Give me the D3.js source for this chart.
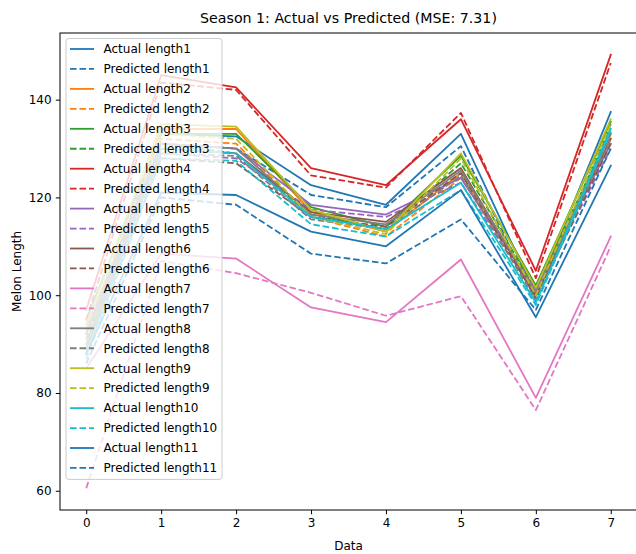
<!DOCTYPE html>
<html>
<head>
<meta charset="utf-8">
<script src="https://cdn.jsdelivr.net/npm/d3@7"></script>
<style>
  html, body { margin: 0; padding: 0; background: #fff; }
  svg { display: block; font-family: "DejaVu Sans", sans-serif; }
</style>
</head>
<body>
<svg id="chart" width="636" height="554"></svg>
<script>
// Season 1 melon lengths: measured vs model output at each data step
const steps = [0, 1, 2, 3, 4, 5, 6, 7];
const seriesNames = ["length1", "length2", "length3", "length4", "length5", "length6",
                     "length7", "length8", "length9", "length10", "length11"];
const seriesColors = ["#1f77b4", "#ff7f0e", "#2ca02c", "#d62728", "#9467bd", "#8c564b",
                      "#e377c2", "#7f7f7f", "#bcbd22", "#17becf", "#1f77b4"];

const actualValues = [
  [95, 133, 132.5, 122.5, 118.5, 133, 100, 137.5],
  [90, 134, 134, 117, 113, 125, 101, 133],
  [92, 133, 133, 118, 114, 128.5, 102, 135.5],
  [97, 145, 142.5, 126, 122.5, 136, 105, 149.2],
  [93, 131, 130, 118.5, 116.5, 124, 101, 131],
  [89, 130, 129, 117, 115, 126, 100, 132],
  [85, 108.5, 107.5, 97.5, 94.5, 107.3, 79, 112],
  [90, 131, 130, 116.5, 114.5, 125.5, 100.5, 133],
  [94, 135, 134.5, 117.5, 113, 129, 101.5, 136],
  [88, 130, 129, 116, 113.5, 123, 98.5, 134],
  [88, 121, 120.5, 113, 110, 121.5, 95.5, 126.5]
];
const predictedValues = [
  [93, 131, 130, 120.5, 118, 130.5, 99, 135],
  [89, 132, 131, 116, 112, 124, 100.5, 132],
  [91, 131, 129, 116.5, 113.5, 127, 101, 134],
  [95, 143.5, 142, 124.5, 122, 137.3, 103.5, 147.5],
  [92, 129, 128, 117.5, 116, 123, 100, 130],
  [88, 128, 127, 116, 114, 125, 99.5, 131],
  [60.5, 107, 104.5, 100.5, 95.8, 99.8, 76.5, 110],
  [89, 129, 128.5, 115.5, 113.5, 124.5, 99, 132],
  [93, 133, 132, 116, 112.5, 128, 100, 135],
  [87, 128, 127.5, 114.5, 112, 121.5, 98, 133.5],
  [86, 120, 118.5, 108.5, 106.5, 115.5, 97, 130]
];
const yTicks = [60, 80, 100, 120, 140];
const titleText = "Season 1: Actual vs Predicted (MSE: 7.31)";
const xLabel = "Data";
const yLabel = "Melon Length";

const svg = d3.select("#chart");
const margin = { left: 60, right: 637, top: 33, bottom: 510 };
const fs = 12; // base font size in px

// Axis limits padded by 5% of the data span on each side
function padded(lo, hi) { const m = (hi - lo) * 0.05; return [lo - m, hi + m]; }
const allVals = actualValues.flat().concat(predictedValues.flat());
const x = d3.scaleLinear().domain(padded(d3.min(steps), d3.max(steps)))
  .range([margin.left, margin.right]);
const y = d3.scaleLinear().domain(padded(d3.min(allVals), d3.max(allVals)))
  .range([margin.bottom, margin.top]);

svg.append("defs").append("clipPath").attr("id", "plot-clip")
  .append("rect").attr("x", margin.left).attr("y", margin.top)
  .attr("width", margin.right - margin.left).attr("height", margin.bottom - margin.top);

const line = d3.line().x((d, i) => x(steps[i])).y(d => y(d));
const lw = 1.8;
const dash = "6.6,2.9";

// Series lines: actual (solid) then predicted (dashed) for each length
const plot = svg.append("g").attr("clip-path", "url(#plot-clip)");
seriesNames.forEach((name, k) => {
  plot.append("path").datum(actualValues[k]).attr("d", line)
    .attr("fill", "none").attr("stroke", seriesColors[k]).attr("stroke-width", lw)
    .attr("stroke-linejoin", "round").attr("stroke-linecap", "square");
  plot.append("path").datum(predictedValues[k]).attr("d", line)
    .attr("fill", "none").attr("stroke", seriesColors[k]).attr("stroke-width", lw)
    .attr("stroke-dasharray", dash).attr("stroke-linejoin", "round");
});

// Axes
const xAxis = d3.axisBottom(x).tickValues(steps).tickSize(4.2).tickPadding(4.2);
const yAxis = d3.axisLeft(y).tickValues(yTicks).tickSize(4.2).tickPadding(4.2);
const gx = svg.append("g").attr("transform", `translate(0,${margin.bottom})`).call(xAxis);
const gy = svg.append("g").attr("transform", `translate(${margin.left},0)`).call(yAxis);
[gx, gy].forEach(g => {
  g.select(".domain").remove();
  g.selectAll(".tick line").attr("stroke", "#000").attr("stroke-width", 1);
  g.selectAll(".tick text").attr("fill", "#000").style("font-size", fs + "px")
    .style("font-family", "DejaVu Sans");
});

// Frame
svg.append("rect").attr("x", margin.left).attr("y", margin.top)
  .attr("width", margin.right - margin.left).attr("height", margin.bottom - margin.top)
  .attr("fill", "none").attr("stroke", "#000").attr("stroke-width", 1);

// Title and axis labels
svg.append("text").attr("x", (margin.left + margin.right) / 2).attr("y", 23)
  .attr("text-anchor", "middle").style("font-size", "14.2px").text(titleText);
svg.append("text").attr("x", (margin.left + margin.right) / 2).attr("y", 550)
  .attr("text-anchor", "middle").style("font-size", fs + "px").text(xLabel);
svg.append("text").attr("transform", `translate(21,${(margin.top + margin.bottom) / 2}) rotate(-90)`)
  .attr("text-anchor", "middle").style("font-size", fs + "px").text(yLabel);

// Legend
const entries = [];
seriesNames.forEach((name, k) => {
  entries.push({ label: "Actual " + name, color: seriesColors[k], dashed: false });
  entries.push({ label: "Predicted " + name, color: seriesColors[k], dashed: true });
});
const lg = svg.append("g");
const lgX = 66, lgY = 38.5, rowH = 19.95;
lg.append("rect").attr("x", lgX).attr("y", lgY).attr("width", 156)
  .attr("height", rowH * entries.length + 2).attr("rx", 3)
  .attr("fill", "#fff").attr("fill-opacity", 0.8)
  .attr("stroke", "#cccccc").attr("stroke-width", 1);
entries.forEach((e, i) => {
  const cy = lgY + 10.5 + i * rowH;
  lg.append("line").attr("x1", lgX + 4).attr("x2", lgX + 28).attr("y1", cy).attr("y2", cy)
    .attr("stroke", e.color).attr("stroke-width", lw)
    .attr("stroke-dasharray", e.dashed ? dash : null);
  lg.append("text").attr("x", lgX + 37.5).attr("y", cy).attr("dy", "0.36em")
    .style("font-size", fs + "px").attr("fill", "#000").text(e.label);
});
</script>
</body>
</html>
